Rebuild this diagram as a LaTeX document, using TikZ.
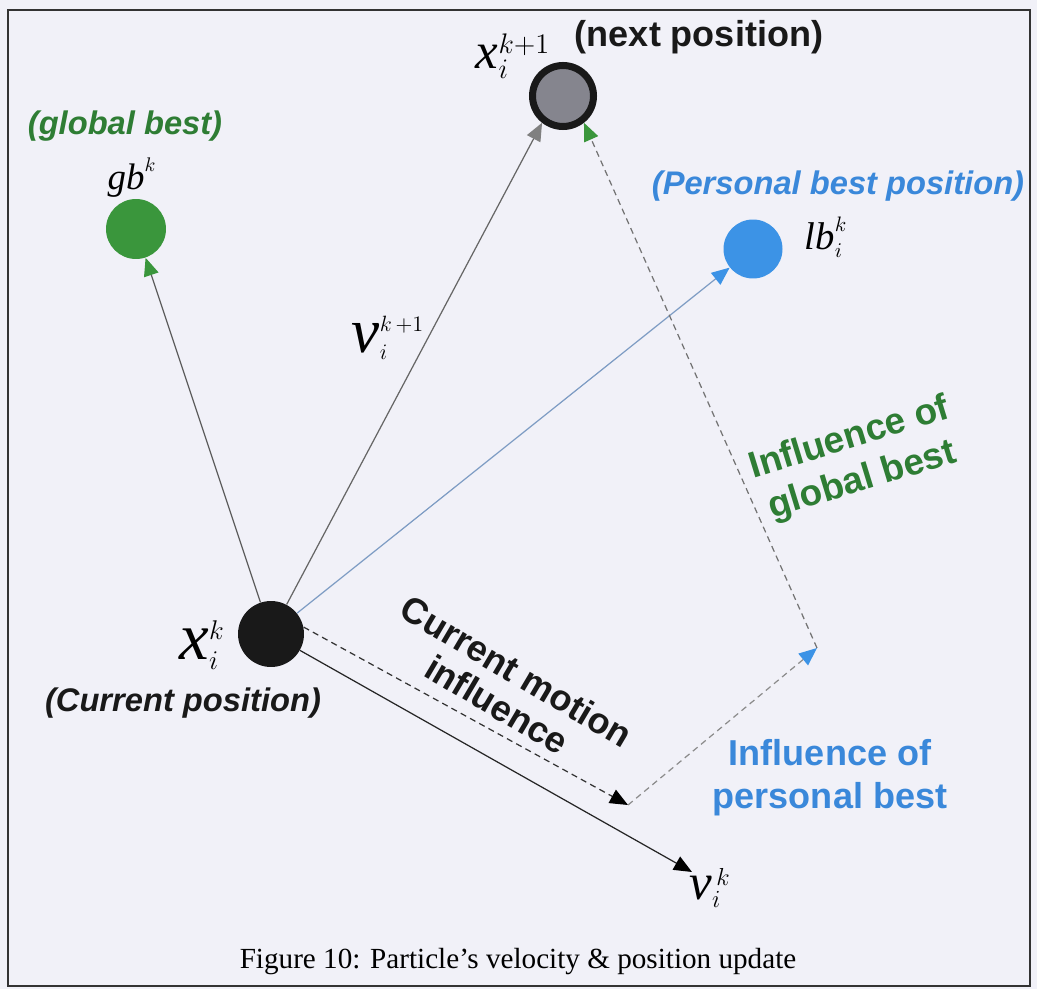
\RequirePackage{fix-cm}
\documentclass[tikz,border=0pt]{standalone}
\usepackage{fontspec}
\setmainfont{Liberation Serif}
\setsansfont{Liberation Sans}
\usetikzlibrary{arrows.meta}
\definecolor{sfondo}{HTML}{F1F1F8}
\definecolor{verdegb}{HTML}{3A963C}
\definecolor{verdetesto}{HTML}{2E7D34}
\definecolor{bluelb}{HTML}{3C93E6}
\definecolor{bluetesto}{HTML}{3A88DA}
\definecolor{grigionext}{HTML}{85858E}
\definecolor{lineablu}{HTML}{7E9CC4}
\newcommand{\grande}[2]{\hbox{\fontsize{#1}{#1}\selectfont\itshape #2}}
\tikzset{
	% particella (cerchio pieno)
	particella/.style={circle, inner sep=0pt, minimum size=#1},
	% scritta in grassetto (dimensione, interlinea)
	etichetta/.style 2 args={font=\fontsize{#1}{#2}\selectfont\sffamily\bfseries, align=center, inner sep=0pt},
	% variabile matematica
	mvar/.style={font=\fontsize{#1}{#1}\selectfont, inner sep=0pt},
	% vettore continuo
	vettore/.style={line width=0.7pt},
	% vettore tratteggiato
	influenza/.style={line width=0.7pt, dash pattern=on 3.5pt off 2.5pt},
	% punta colorata
	punta/.style={-{Triangle[length=3.6mm, width=3mm, color=#1]}},
}

\begin{document}
\begin{tikzpicture}[x=0.02cm, y=-0.02cm]
    \fill[sfondo] (0,0) rectangle (1037,989);
    \draw[line width=0.8pt, black!80] (8,10) rectangle (1030,986);

    % ---------------- particelle ----------------
    \node[particella=1.32cm, fill=black!90] (cur) at (271,634) {};
    \node[particella=1.22cm, fill=grigionext, draw=black!90, line width=4pt] (nxt) at (563,96) {};
    \node[particella=1.2cm, fill=verdegb] (gb) at (136,229) {};
    \node[particella=1.18cm, fill=bluelb] (lb) at (753,249) {};
    \coordinate (vk) at (692,872);
    \coordinate (mot) at (628,805);
    \coordinate (pers) at (817,648);

    % ---------------- vettori ----------------
    \draw[vettore, black!65, punta=verdegb] (cur) -- (gb);
    \draw[vettore, black!60, punta=black!50] (cur) -- (nxt.-128);
    \draw[vettore, lineablu, punta=bluelb] (cur) -- (lb);
    \draw[vettore, black!85, punta=black] (cur) -- (vk);
    \draw[influenza, black!80, punta=black] (cur.12) -- (mot);
    \draw[influenza, black!45, punta=bluelb] (mot) -- (pers);
    \draw[influenza, black!55, punta=verdegb] (pers) -- (nxt.-52);

    % ---------------- variabili ----------------
    \node[mvar=23pt] (txn) at (513,56) {$\grande{29pt}{x}^{k+1}_{i}$};
    \node[mvar=22pt] (txc) at (202,645) {$\grande{38pt}{x}^{k}_{i}$};
    \node[mvar=18pt] (tv1) at (388,338) {$\grande{36pt}{v}^{k\,+1}_{i}$};
    \node[mvar=20pt] (tvk) at (710,888) {$\grande{29pt}{v}^{\,k}_{i}$};
    \node[mvar=16pt] (tgb) at (132,178) {$\grande{21pt}{gb}^{k}$};
    \node[mvar=17pt] (tlb) at (826,237) {$\grande{22pt}{lb}^{k}_{i}$};

    % ---------------- scritte ----------------
    \node[etichetta={18.6pt}{22pt}, text=verdetesto] (tglob) at (125,126) {\itshape (global best)};
    \node[etichetta={20.5pt}{24pt}, text=black!90] (tnext) at (699,37) {(next position)};
    \node[etichetta={18.6pt}{22pt}, text=bluetesto] (tpers) at (838,186) {\itshape (Personal best position)};
    \node[etichetta={18.6pt}{22pt}, text=black!90] (tcurp) at (183,703) {\itshape (Current position)};
    \node[etichetta={20.6pt}{22pt}, text=black!90, rotate=-30.6] (tmot) at (507,688) {Current motion\\influence};
    \node[etichetta={21pt}{25pt}, text=verdetesto, rotate=17] (tginf) at (856,460) {Influence of\\global best};
    \node[etichetta={20.5pt}{24.5pt}, text=bluetesto] (tpinf) at (830,778) {Influence of\\personal best};

    % didascalia
    \node[font=\fontsize{16.6pt}{18pt}\selectfont, inner sep=0pt] (cap) at (518,962) {Figure 10: Particle’s velocity \& position update};
\end{tikzpicture}
\end{document}
